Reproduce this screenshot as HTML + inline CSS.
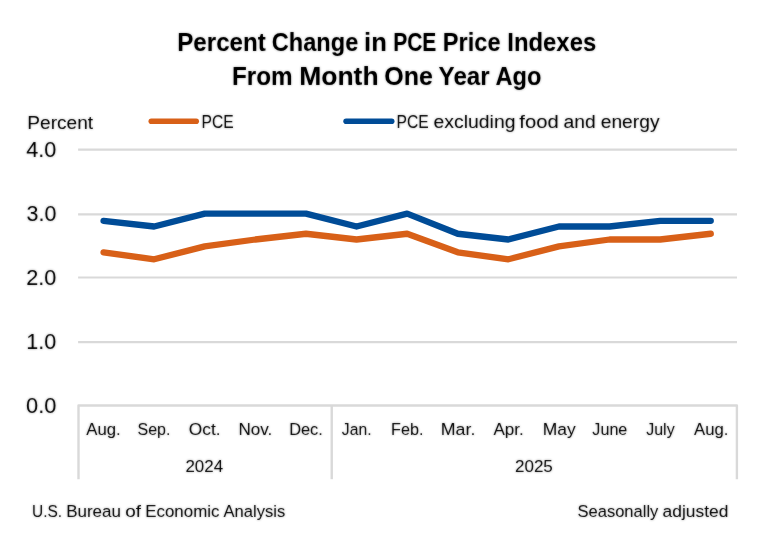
<!DOCTYPE html>
<html lang="en"><head><meta charset="utf-8"><title>Percent Change in PCE Price Indexes From Month One Year Ago</title>
<style>
html,body{margin:0;padding:0;background:#fff;}
body{width:772px;height:540px;overflow:hidden;}
svg{display:block;}
text{font-family:"Liberation Sans",sans-serif;}
</style></head><body>
<svg width="772" height="540" viewBox="0 0 772 540">
<rect width="772" height="540" fill="#ffffff"/>
<g stroke="#D9D9D9" stroke-width="2.2" fill="none">
<line x1="78.10" y1="342.15" x2="737.00" y2="342.15"/>
<line x1="78.10" y1="277.50" x2="737.00" y2="277.50"/>
<line x1="78.10" y1="214.35" x2="737.00" y2="214.35"/>
<line x1="78.10" y1="149.65" x2="737.00" y2="149.65"/>
</g>
<g stroke="#D9D9D9" stroke-width="2.4" fill="none" stroke-linecap="butt" stroke-linejoin="round">
<path d="M78.50 479.2V405.50H736.90V479.2"/>
<line x1="331.73" y1="405.50" x2="331.73" y2="479.2"/>
</g>
<polyline points="103.56,252.30 154.16,259.30 204.76,246.40 255.36,239.50 305.96,233.75 356.56,239.50 407.16,233.75 457.76,252.30 508.36,259.30 558.96,246.40 609.56,239.50 660.16,239.50 710.76,233.75" fill="none" stroke="#D86018" stroke-width="6.3" stroke-linecap="round" stroke-linejoin="round"/>
<polyline points="103.56,220.80 154.16,226.50 204.76,213.65 255.36,213.65 305.96,213.65 356.56,226.50 407.16,213.65 457.76,233.75 508.36,239.50 558.96,226.50 609.56,226.50 660.16,220.80 710.76,220.80" fill="none" stroke="#004C97" stroke-width="6.3" stroke-linecap="round" stroke-linejoin="round"/>
<line x1="151.3" y1="121.2" x2="196.2" y2="121.2" stroke="#D86018" stroke-width="5.6" stroke-linecap="round"/>
<line x1="346.1" y1="121.2" x2="391.7" y2="121.2" stroke="#004C97" stroke-width="5.6" stroke-linecap="round"/>
<defs><filter id="soft" x="-5%" y="-50%" width="110%" height="200%"><feGaussianBlur in="SourceGraphic" stdDeviation="0.8" result="b"/><feComposite in="SourceGraphic" in2="b" operator="arithmetic" k1="0" k2="0.68" k3="0.42" k4="0"/></filter></defs>
<g filter="url(#soft)">
<text y="51.40" font-size="25.00" font-weight="bold" fill="#000000"><tspan x="177.18" textLength="88.66" lengthAdjust="spacingAndGlyphs">Percent</tspan> <tspan x="271.85" textLength="86.44" lengthAdjust="spacingAndGlyphs">Change</tspan> <tspan x="364.09" textLength="22.76" lengthAdjust="spacingAndGlyphs">in</tspan> <tspan x="393.15" textLength="43.25" lengthAdjust="spacingAndGlyphs">PCE</tspan> <tspan x="442.85" textLength="57.73" lengthAdjust="spacingAndGlyphs">Price</tspan> <tspan x="507.27" textLength="88.93" lengthAdjust="spacingAndGlyphs">Indexes</tspan></text>
<text y="85.10" font-size="25.00" font-weight="bold" fill="#000000"><tspan x="231.97" textLength="60.75" lengthAdjust="spacingAndGlyphs">From</tspan> <tspan x="299.18" textLength="79.44" lengthAdjust="spacingAndGlyphs">Month</tspan> <tspan x="384.37" textLength="48.68" lengthAdjust="spacingAndGlyphs">One</tspan> <tspan x="438.62" textLength="51.06" lengthAdjust="spacingAndGlyphs">Year</tspan> <tspan x="495.51" textLength="45.94" lengthAdjust="spacingAndGlyphs">Ago</tspan></text>
<text y="128.65" font-size="19.20" fill="#000000"><tspan x="27.28" textLength="65.89" lengthAdjust="spacingAndGlyphs">Percent</tspan></text>
<text y="128.00" font-size="19.20" fill="#000000"><tspan x="201.51" textLength="32.15" lengthAdjust="spacingAndGlyphs">PCE</tspan></text>
<text y="128.00" font-size="19.20" fill="#000000"><tspan x="396.51" textLength="32.14" lengthAdjust="spacingAndGlyphs">PCE</tspan> <tspan x="433.57" textLength="81.93" lengthAdjust="spacingAndGlyphs">excluding</tspan> <tspan x="519.32" textLength="39.40" lengthAdjust="spacingAndGlyphs">food</tspan> <tspan x="563.63" textLength="32.17" lengthAdjust="spacingAndGlyphs">and</tspan> <tspan x="600.71" textLength="58.86" lengthAdjust="spacingAndGlyphs">energy</tspan></text>
<text y="156.65" font-size="21.60" fill="#000000"><tspan x="26.25" textLength="30.12" lengthAdjust="spacingAndGlyphs">4.0</tspan></text>
<text y="221.35" font-size="21.60" fill="#000000"><tspan x="26.54" textLength="29.82" lengthAdjust="spacingAndGlyphs">3.0</tspan></text>
<text y="284.50" font-size="21.60" fill="#000000"><tspan x="26.26" textLength="30.11" lengthAdjust="spacingAndGlyphs">2.0</tspan></text>
<text y="349.15" font-size="21.60" fill="#000000"><tspan x="26.35" textLength="30.01" lengthAdjust="spacingAndGlyphs">1.0</tspan></text>
<text y="412.50" font-size="21.60" fill="#000000"><tspan x="26.04" textLength="30.34" lengthAdjust="spacingAndGlyphs">0.0</tspan></text>
<text y="434.80" font-size="16.80" fill="#000000"><tspan x="86.25" textLength="34.44" lengthAdjust="spacingAndGlyphs">Aug.</tspan></text>
<text y="434.80" font-size="16.80" fill="#000000"><tspan x="137.50" textLength="32.92" lengthAdjust="spacingAndGlyphs">Sep.</tspan></text>
<text y="434.80" font-size="16.80" fill="#000000"><tspan x="188.84" textLength="31.78" lengthAdjust="spacingAndGlyphs">Oct.</tspan></text>
<text y="434.80" font-size="16.80" fill="#000000"><tspan x="238.46" textLength="33.88" lengthAdjust="spacingAndGlyphs">Nov.</tspan></text>
<text y="434.80" font-size="16.80" fill="#000000"><tspan x="289.13" textLength="33.75" lengthAdjust="spacingAndGlyphs">Dec.</tspan></text>
<text y="434.80" font-size="16.80" fill="#000000"><tspan x="341.85" textLength="29.66" lengthAdjust="spacingAndGlyphs">Jan.</tspan></text>
<text y="434.80" font-size="16.80" fill="#000000"><tspan x="391.08" textLength="32.42" lengthAdjust="spacingAndGlyphs">Feb.</tspan></text>
<text y="434.80" font-size="16.80" fill="#000000"><tspan x="440.78" textLength="34.59" lengthAdjust="spacingAndGlyphs">Mar.</tspan></text>
<text y="434.80" font-size="16.80" fill="#000000"><tspan x="493.49" textLength="30.32" lengthAdjust="spacingAndGlyphs">Apr.</tspan></text>
<text y="434.80" font-size="16.80" fill="#000000"><tspan x="542.72" textLength="32.94" lengthAdjust="spacingAndGlyphs">May</tspan></text>
<text y="434.80" font-size="16.80" fill="#000000"><tspan x="592.36" textLength="34.96" lengthAdjust="spacingAndGlyphs">June</tspan></text>
<text y="434.80" font-size="16.80" fill="#000000"><tspan x="646.19" textLength="28.46" lengthAdjust="spacingAndGlyphs">July</tspan></text>
<text y="434.80" font-size="16.80" fill="#000000"><tspan x="694.00" textLength="34.44" lengthAdjust="spacingAndGlyphs">Aug.</tspan></text>
<text y="472.00" font-size="16.80" fill="#000000"><tspan x="185.45" textLength="37.68" lengthAdjust="spacingAndGlyphs">2024</tspan></text>
<text y="472.00" font-size="16.80" fill="#000000"><tspan x="514.94" textLength="37.91" lengthAdjust="spacingAndGlyphs">2025</tspan></text>
<text y="517.00" font-size="16.80" fill="#000000"><tspan x="32.10" textLength="30.08" lengthAdjust="spacingAndGlyphs">U.S.</tspan> <tspan x="66.18" textLength="54.82" lengthAdjust="spacingAndGlyphs">Bureau</tspan> <tspan x="125.22" textLength="15.78" lengthAdjust="spacingAndGlyphs">of</tspan> <tspan x="145.26" textLength="74.17" lengthAdjust="spacingAndGlyphs">Economic</tspan> <tspan x="223.52" textLength="61.71" lengthAdjust="spacingAndGlyphs">Analysis</tspan></text>
<text y="517.00" font-size="16.80" fill="#000000"><tspan x="577.48" textLength="80.90" lengthAdjust="spacingAndGlyphs">Seasonally</tspan> <tspan x="662.63" textLength="65.79" lengthAdjust="spacingAndGlyphs">adjusted</tspan></text>
</g>
</svg>
</body></html>
